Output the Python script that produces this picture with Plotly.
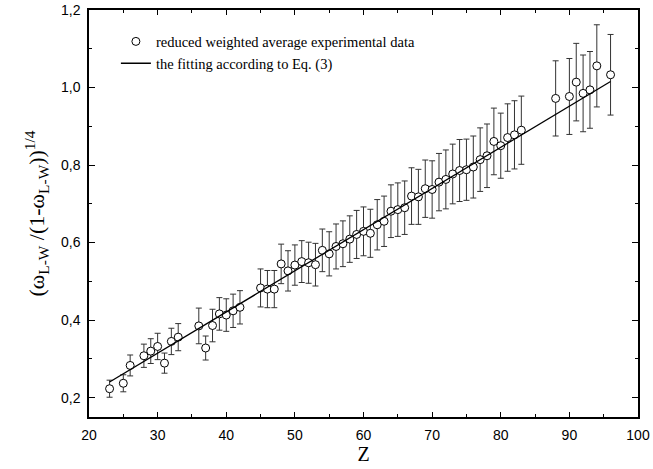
import plotly.graph_objects as go

Z = [23, 25, 26, 28, 29, 30, 31, 32, 33, 36, 37, 38, 39, 40, 41, 42, 45, 46, 47, 48,
     49, 50, 51, 52, 53, 54, 55, 56, 57, 58, 59, 60, 61, 62, 63, 64, 65, 66, 67, 68,
     69, 70, 71, 72, 73, 74, 75, 76, 77, 78, 79, 80, 81, 82, 83, 88, 90, 91, 92, 93,
     94, 96]
values = [0.223, 0.237, 0.283, 0.308, 0.320, 0.332, 0.289, 0.345, 0.356, 0.385,
          0.328, 0.386, 0.416, 0.413, 0.424, 0.433, 0.483, 0.480, 0.480, 0.545,
          0.527, 0.542, 0.551, 0.548, 0.543, 0.580, 0.571, 0.590, 0.597, 0.609,
          0.621, 0.629, 0.624, 0.646, 0.655, 0.681, 0.685, 0.690, 0.720, 0.718,
          0.739, 0.737, 0.756, 0.763, 0.777, 0.786, 0.788, 0.795, 0.814, 0.824,
          0.861, 0.850, 0.871, 0.878, 0.890, 0.972, 0.977, 1.014, 0.985, 0.994,
          1.056, 1.033]
errors = [0.022, 0.022, 0.027, 0.030, 0.032, 0.034, 0.026, 0.034, 0.035, 0.046,
          0.031, 0.042, 0.042, 0.042, 0.043, 0.043, 0.049, 0.048, 0.048, 0.051,
          0.052, 0.052, 0.054, 0.053, 0.055, 0.055, 0.057, 0.058, 0.059, 0.060,
          0.062, 0.063, 0.062, 0.065, 0.065, 0.068, 0.069, 0.069, 0.073, 0.071,
          0.074, 0.074, 0.074, 0.076, 0.077, 0.080, 0.079, 0.080, 0.082, 0.082,
          0.086, 0.084, 0.087, 0.088, 0.088, 0.097, 0.098, 0.100, 0.099, 0.099,
          0.106, 0.104]
fit_slope = 0.01062
fit_intercept = -0.0038
fit_Z = [23, 96]
fit_values = [fit_slope * z + fit_intercept for z in fit_Z]

serif = "Liberation Serif, Times New Roman, serif"
sans = "Liberation Sans, Arial, sans-serif"

fig = go.Figure()
fig.add_trace(go.Scatter(
    x=Z, y=values, mode="markers",
    name="reduced weighted average experimental data",
    marker=dict(symbol="circle", size=8, color="white",
                line=dict(color="black", width=1)),
    error_y=dict(type="data", array=errors, visible=True,
                 color="#333333", thickness=1, width=3),
))
fig.add_trace(go.Scatter(
    x=fit_Z, y=fit_values, mode="lines",
    name="the fitting according to Eq. (3)",
    line=dict(color="black", width=1.3),
))

axis_common = dict(
    showline=True, linecolor="black", linewidth=1.5, mirror="allticks",
    ticks="inside", tickwidth=1, tickcolor="black",
    showgrid=False, zeroline=False, automargin=False,
    ticklabeloverflow="allow",
    tickfont=dict(family=sans, size=14, color="black"),
)
fig.update_xaxes(
    range=[20, 100], dtick=10, tick0=20, ticklen=5, ticklabelstandoff=4,
    minor=dict(ticks="inside", dtick=5, ticklen=3, tickcolor="black"),
    title=dict(text="Z", font=dict(family=serif, size=20, color="black"), standoff=2),
    **axis_common,
)
fig.update_yaxes(
    range=[0.15, 1.2001], dtick=0.2, tick0=0.2, tickformat=".1f",
    ticklen=6, ticklabelstandoff=4,
    minor=dict(ticks="inside", dtick=0.1, ticklen=3, tickcolor="black"),
    title=dict(text="(ω<sub>L-W</sub> /(1-ω<sub>L-W</sub>))<sup>1/4</sup>",
               font=dict(family=serif, size=22, color="black"), standoff=10),
    **axis_common,
)
fig.update_layout(
    width=653, height=469,
    margin=dict(l=89, r=15, t=10, b=52),
    plot_bgcolor="white", paper_bgcolor="white",
    separators=",.",
    showlegend=True,
    legend=dict(x=0.049, y=0.962, xanchor="left", yanchor="top",
                bgcolor="rgba(0,0,0,0)", tracegroupgap=0,
                font=dict(family=serif, size=14.5, color="black")),
)
fig.write_html("out.html", config={"displayModeBar": False},
               post_script="document.body.style.margin='0px';")
